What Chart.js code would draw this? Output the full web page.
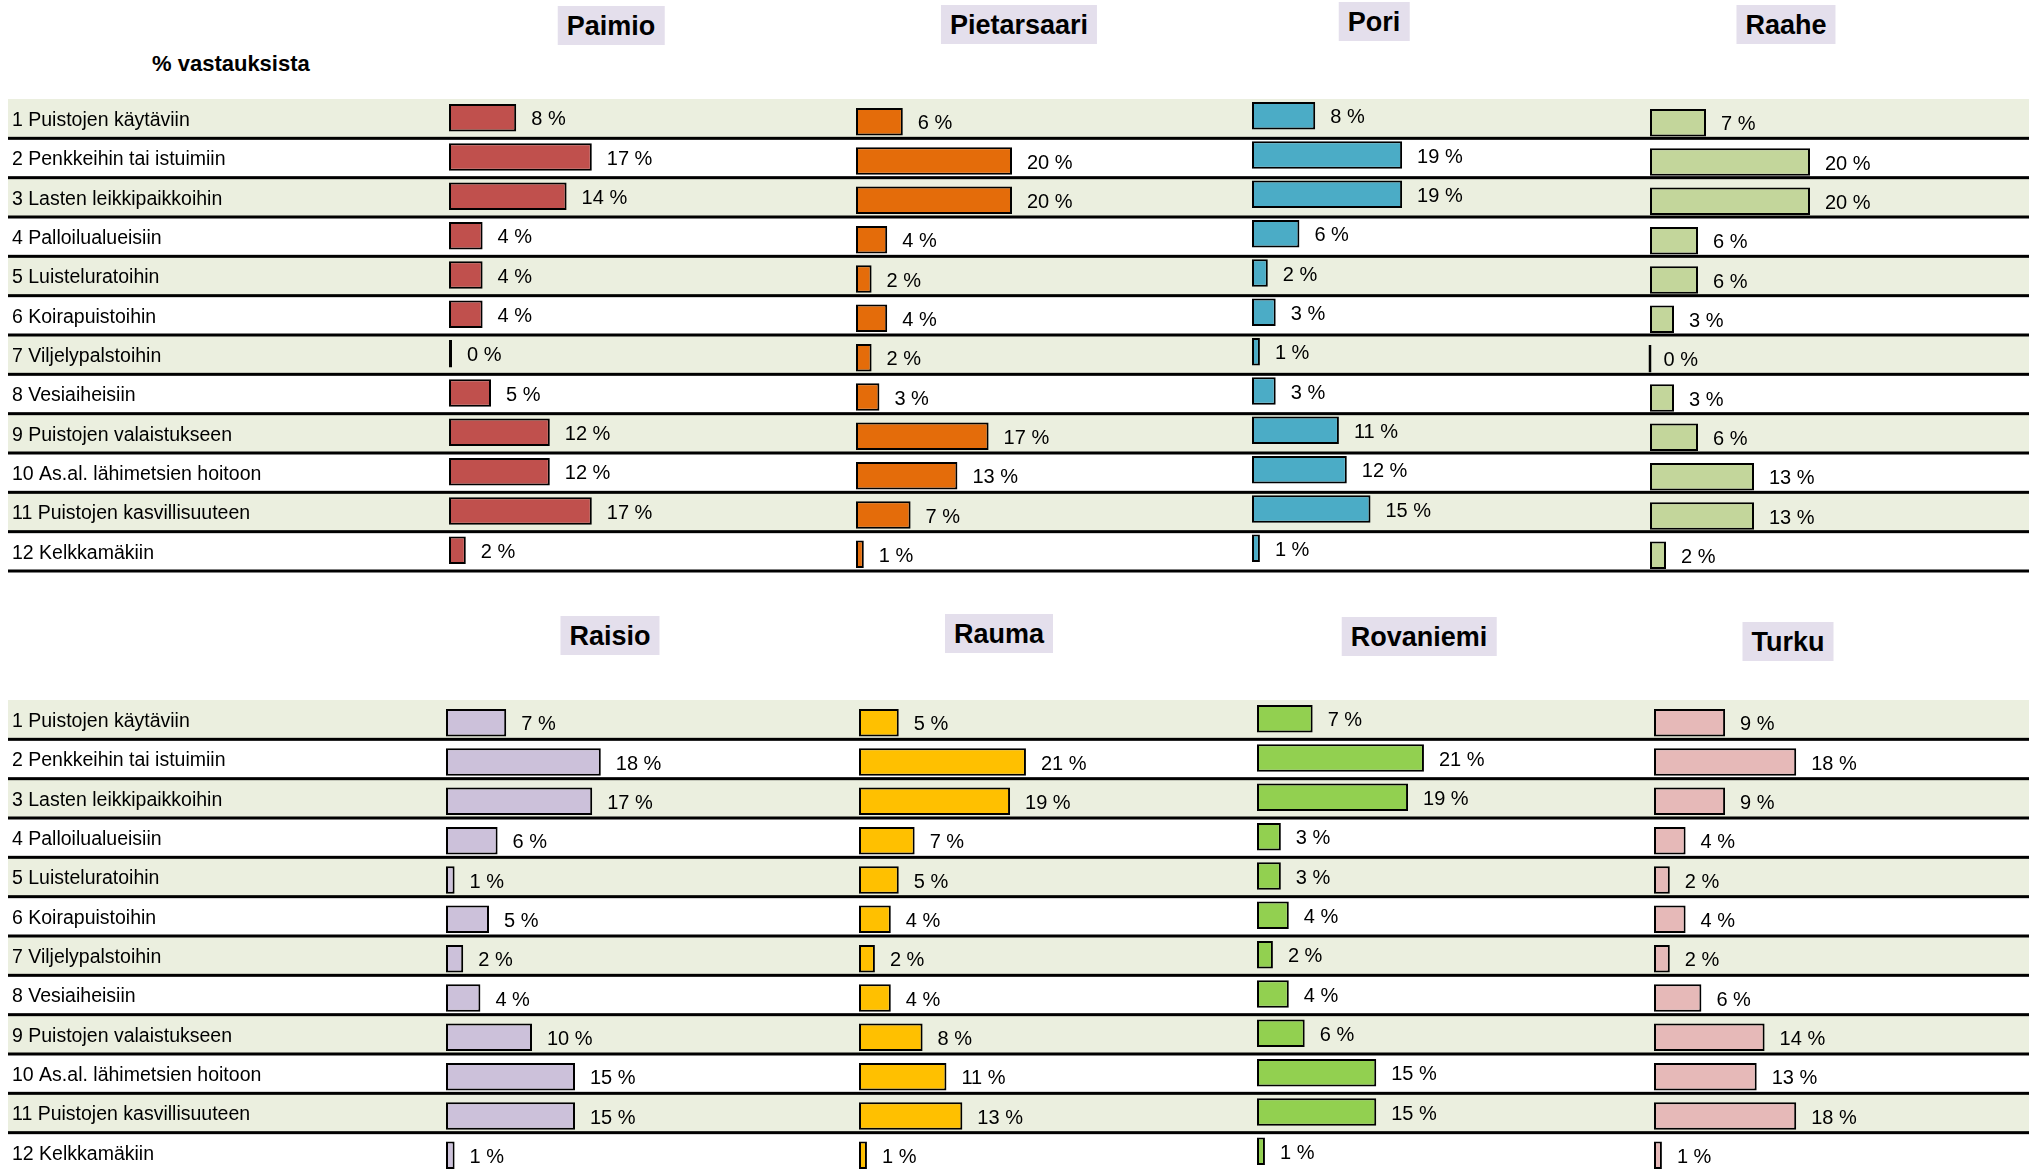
<!DOCTYPE html>
<html lang="fi">
<head>
<meta charset="utf-8">
<title>% vastauksista</title>
<script src="https://cdn.jsdelivr.net/npm/chart.js@4.4.1/dist/chart.umd.min.js"></script>
<style>
  html, body { margin: 0; padding: 0; background: #fff; overflow: hidden; }
  body { width: 2034px; height: 1170px; position: relative; }
  .block { position: absolute; left: 0; width: 2034px; height: 476px; }
  .city {
    position: absolute; box-sizing: border-box; height: 39px;
    padding: 5px 9px 0; line-height: 34px;
    background: #E4DFEC; color: #000; white-space: nowrap;
    font: bold 27px 'Liberation Sans', Arial, sans-serif;
    transform: translateX(-50%);
  }
  #heading {
    position: absolute; left: 152px; top: 51px;
    font: bold 22px 'Liberation Sans', Arial, sans-serif; color: #000;
  }
</style>
</head>
<body>
<div id="heading">% vastauksista</div>
<div class="block" style="top:99px"><canvas id="topChart"></canvas></div>
<div class="block" style="top:700px"><canvas id="bottomChart"></canvas></div>
<script>
(function () {
  'use strict';

  // ── Data ──
  const categories = [
    '1 Puistojen käytäviin',
    '2 Penkkeihin tai istuimiin',
    '3 Lasten leikkipaikkoihin',
    '4 Palloilualueisiin',
    '5 Luisteluratoihin',
    '6 Koirapuistoihin',
    '7 Viljelypalstoihin',
    '8 Vesiaiheisiin',
    '9 Puistojen valaistukseen',
    '10 As.al. lähimetsien hoitoon',
    '11 Puistojen kasvillisuuteen',
    '12 Kelkkamäkiin'
  ];

  const topCities = ['Paimio', 'Pietarsaari', 'Pori', 'Raahe'];
  const bottomCities = ['Raisio', 'Rauma', 'Rovaniemi', 'Turku'];

  const paimio      = [8, 17, 14, 4, 4, 4, 0, 5, 12, 12, 17, 2];
  const pietarsaari = [6, 20, 20, 4, 2, 4, 2, 3, 17, 13, 7, 1];
  const pori        = [8, 19, 19, 6, 2, 3, 1, 3, 11, 12, 15, 1];
  const raahe       = [7, 20, 20, 6, 6, 3, 0, 3, 6, 13, 13, 2];
  const raisio      = [7, 18, 17, 6, 1, 5, 2, 4, 10, 15, 15, 1];
  const rauma       = [5, 21, 19, 7, 5, 4, 2, 4, 8, 11, 13, 1];
  const rovaniemi   = [7, 21, 19, 3, 3, 4, 2, 4, 6, 15, 15, 1];
  const turku       = [9, 18, 9, 4, 2, 4, 2, 6, 14, 13, 18, 1];

  // ── Style / layout ──
  const STYLE = {
    labelFont: "'Liberation Sans', Arial, sans-serif",
    valueFont: "'Liberation Sans', Arial, sans-serif",
    stripe: '#EBEFDF',
    rule: '#000000',
    ink: '#000000'
  };
  const PAGE_W = 2034;
  const PAD_LEFT = 12;

  const topColors = ['#C0504D', '#E46C0A', '#4BACC6', '#C3D69B'];
  const bottomColors = ['#CCC1DA', '#FFC000', '#92D050', '#E6B9B8'];

  // bar baselines (px), scale (px per %) and small vertical nudge of each column
  const topColX = [449, 856, 1252, 1650];
  const bottomColX = [446, 859, 1257, 1654];
  const topPxPerPct = [8.4, 7.8, 7.9, 8.0];
  const bottomPxPerPct = [8.6, 7.95, 7.95, 7.9];
  const topNudge = [-1, 3, -3, 4];
  const bottomNudge = [3, 3, -1, 3];

  // city title boxes: centre x, top y
  const topTitlePos = [[611, 6], [1019, 5], [1374, 2], [1786, 5]];
  const bottomTitlePos = [[610, 616], [999, 614], [1419, 617], [1788, 622]];

  // ── Plugins ──
  const rowStripes = {
    id: 'rowStripes',
    beforeDraw(chart) {
      const { ctx, chartArea } = chart;
      const n = categories.length;
      const h = (chartArea.bottom - chartArea.top) / n;
      const x0 = 8;
      const w = chart.width - 13;
      ctx.save();
      ctx.fillStyle = STYLE.stripe;
      for (let i = 0; i < n; i += 2) {
        ctx.fillRect(x0, chartArea.top + i * h, w, h);
      }
      ctx.fillStyle = STYLE.rule;
      for (let i = 1; i <= n; i++) {
        ctx.fillRect(x0, chartArea.top + i * h - 1.5, w, 3);
      }
      ctx.restore();
    }
  };

  // shift each column's bars a little, as in the original sheet
  const columnNudge = {
    id: 'columnNudge',
    beforeDatasetDraw(chart, args, opts) {
      chart.ctx.save();
      chart.ctx.translate(0, opts.dy[args.index] || 0);
    },
    afterDatasetDraw(chart) {
      chart.ctx.restore();
    }
  };

  const valueLabels = {
    id: 'valueLabels',
    afterDatasetsDraw(chart) {
      const ctx = chart.ctx;
      const dy = chart.options.plugins.columnNudge.dy;
      ctx.save();
      ctx.font = `20px ${STYLE.valueFont}`;
      ctx.fillStyle = STYLE.ink;
      ctx.textBaseline = 'middle';
      chart.data.datasets.forEach((ds, i) => {
        chart.getDatasetMeta(i).data.forEach((bar, j) => {
          ctx.fillText(`${ds.data[j]} %`, bar.x + 15, bar.y + 2 + dy[i]);
        });
      });
      ctx.restore();
    }
  };

  function addTitles(cities, pos) {
    cities.forEach((name, i) => {
      const el = document.createElement('div');
      el.className = 'city';
      el.textContent = name;
      el.style.left = pos[i][0] + 'px';
      el.style.top = pos[i][1] + 'px';
      document.body.appendChild(el);
    });
  }

  function initBlock(canvasId, cities, series, colors, colX, pxPerPct, nudge) {
    const canvas = document.getElementById(canvasId);
    const plotLeft = colX[0];

    const scales = {
      y: {
        grid: { display: false },
        border: { display: false },
        ticks: {
          crossAlign: 'far',
          autoSkip: false,
          padding: 0,
          labelOffset: 2,
          color: STYLE.ink,
          font: { family: STYLE.labelFont, size: 19.5 }
        },
        afterFit(scale) {
          scale.width = plotLeft - PAD_LEFT;
          scale.paddingTop = 0;
          scale.paddingBottom = 0;
        }
      }
    };
    // one hidden value axis per column, its zero placed at the column baseline
    cities.forEach((c, i) => {
      scales['x' + i] = {
        type: 'linear',
        display: false,
        min: -(colX[i] - plotLeft) / pxPerPct[i],
        max: (PAGE_W - colX[i]) / pxPerPct[i]
      };
    });

    new Chart(canvas, {
      type: 'bar',
      data: {
        labels: categories,
        datasets: cities.map((c, i) => ({
          label: c,
          data: series[i],
          xAxisID: 'x' + i,
          backgroundColor: colors[i],
          borderColor: '#000',
          borderWidth: 2,
          borderSkipped: false,
          grouped: false,
          barPercentage: 0.7,
          categoryPercentage: 1,
          minBarLength: 3
        }))
      },
      options: {
        indexAxis: 'y',
        responsive: true,
        maintainAspectRatio: false,
        animation: false,
        layout: { padding: { left: PAD_LEFT, right: 0, top: 0, bottom: 4 } },
        scales,
        plugins: {
          legend: { display: false },
          tooltip: { enabled: false },
          columnNudge: { dy: nudge }
        }
      },
      plugins: [rowStripes, columnNudge, valueLabels]
    });
  }

  addTitles(topCities, topTitlePos);
  addTitles(bottomCities, bottomTitlePos);

  initBlock('topChart', topCities, [paimio, pietarsaari, pori, raahe],
    topColors, topColX, topPxPerPct, topNudge);
  initBlock('bottomChart', bottomCities, [raisio, rauma, rovaniemi, turku],
    bottomColors, bottomColX, bottomPxPerPct, bottomNudge);
})();
</script>
</body>
</html>
